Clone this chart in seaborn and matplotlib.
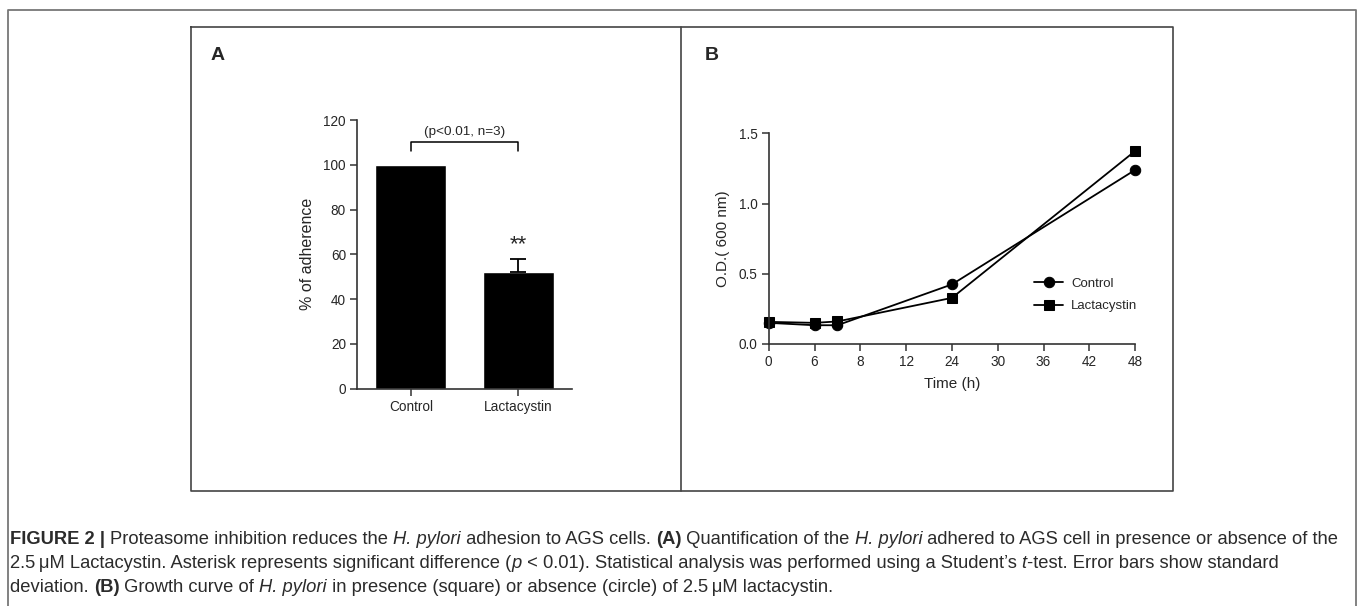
import numpy as np
import pandas as pd
import matplotlib
matplotlib.use("Agg")
import matplotlib.pyplot as plt
import seaborn as sns
from matplotlib.lines import Line2D
from matplotlib.offsetbox import TextArea, HPacker, AnchoredOffsetbox
from matplotlib import font_manager

# ---- data ----
groups = ["Control", "Lactacystin"]
adherence = [100, 52]
adherence_sd = [0, 6]

time_h = [0, 6, 7, 24, 48]
od_control = [0.15, 0.133, 0.133, 0.424, 1.24]
od_lacta = [0.157, 0.15, 0.16, 0.328, 1.375]
time_ticks = [0, 6, 8, 12, 24, 30, 36, 42, 48]

sns.set_style("ticks")
plt.rcParams["font.family"] = ["Liberation Sans", "DejaVu Sans"]

W, H = 1358, 606
fig = plt.figure(figsize=(W / 100, H / 100), dpi=100)


def px_axes(x0, y0, x1, y1):
    # pixel box (top-left origin) -> figure axes
    return fig.add_axes([x0 / W, 1 - y1 / H, (x1 - x0) / W, (y1 - y0) / H])


def px_line(xs, ys, color="#555555", lw=1.2):
    fig.add_artist(Line2D([x / W for x in xs], [1 - y / H for y in ys],
                          transform=fig.transFigure, color=color, lw=lw))


# frames
px_line([8, 8, 1356, 1356], [606, 10, 10, 606], color="#777777", lw=1.3)
px_line([191, 1173, 1173, 191, 191], [27, 27, 491, 491, 27], color="#444444", lw=1.2)
px_line([681, 681], [27, 491], color="#444444", lw=1.2)

fig.text(218 / W, 1 - 55 / H, "A", fontsize=14, fontweight="bold", ha="center", va="center")
fig.text(712 / W, 1 - 55 / H, "B", fontsize=14, fontweight="bold", ha="center", va="center")

# ---- panel A ----
axA = px_axes(357, 120, 572, 388.6)
sns.barplot(x=groups, y=adherence, color="black", width=0.66, errorbar=None,
            saturation=1, ax=axA)
axA.errorbar([1], [adherence[1]], yerr=[[0], [adherence_sd[1]]], fmt="none",
             ecolor="black", elinewidth=1.3, capsize=5.8, capthick=1.3)
axA.set_xlim(-0.5, 1.5)
axA.set_ylim(0, 120)
axA.set_yticks(range(0, 121, 20))
axA.set_ylabel("% of adherence", fontsize=11.5, labelpad=6)
axA.set_xlabel("")
axA.text(1, adherence[1] + adherence_sd[1] + 1.5, "**", ha="center", va="bottom", fontsize=16)
# significance bracket
axA.plot([0, 0, 1, 1], [106, 110.3, 110.3, 106], color="black", lw=1.1, clip_on=False)
axA.text(0.5, 112, "(p<0.01, n=3)", ha="center", va="bottom", fontsize=9.7)

# ---- panel B ----
tick_idx = np.arange(len(time_ticks))
pos = np.interp(time_h, time_ticks, tick_idx)
df = pd.DataFrame({
    "pos": np.concatenate([pos, pos]),
    "od": od_control + od_lacta,
    "group": ["Control"] * len(time_h) + ["Lactacystin"] * len(time_h),
})

axB = px_axes(768.7, 133.4, 1135.2, 343.9)
sns.lineplot(data=df, x="pos", y="od", style="group",
             markers={"Control": "o", "Lactacystin": "s"}, dashes=False,
             color="black", markersize=7.5, linewidth=1.3,
             markeredgecolor="black", ax=axB, clip_on=False)
axB.set_xlim(0, 8)
axB.set_ylim(0, 1.5)
axB.set_xticks(tick_idx)
axB.set_xticklabels([str(t) for t in time_ticks])
axB.set_yticks([0, 0.5, 1.0, 1.5])
axB.set_yticklabels(["0.0", "0.5", "1.0", "1.5"])
axB.set_xlabel("Time (h)", fontsize=11, labelpad=6)
axB.set_ylabel("O.D.( 600 nm)", fontsize=11, labelpad=6)
handles, labels = axB.get_legend_handles_labels()
axB.legend(handles, labels, frameon=False, fontsize=9.5, loc="center left",
           bbox_to_anchor=(1034 / W, 1 - 295 / H), bbox_transform=fig.transFigure,
           handlelength=2.2, handletextpad=0.6, labelspacing=0.75, borderpad=0,
           borderaxespad=0)

for ax in (axA, axB):
    sns.despine(ax=ax)
    for s in ("left", "bottom"):
        ax.spines[s].set_color("#333333")
        ax.spines[s].set_linewidth(1.2)
    ax.tick_params(direction="out", length=5, width=1.1, color="#333333",
                   labelsize=9.8, pad=3)

# ---- caption ----
names = {f.name for f in font_manager.fontManager.ttflist}
cap_font = "Liberation Sans Narrow" if "Liberation Sans Narrow" in names else "Liberation Sans"
cap_size = 14.3 if cap_font == "Liberation Sans Narrow" else 13.2
cap_color = "#2b2b2b"

caption_lines = [
    [("FIGURE 2 | ", "bold"), ("Proteasome inhibition reduces the ", ""), ("H. pylori", "italic"),
     (" adhesion to AGS cells. ", ""), ("(A)", "bold"), (" Quantification of the ", ""),
     ("H. pylori", "italic"), (" adhered to AGS cell in presence or absence of the", "")],
    [("2.5\u2009\u03bcM Lactacystin. Asterisk represents significant difference (", ""), ("p", "italic"),
     (" < 0.01). Statistical analysis was performed using a Student\u2019s ", ""), ("t", "italic"),
     ("-test. Error bars show standard", "")],
    [("deviation. ", ""), ("(B)", "bold"), (" Growth curve of ", ""), ("H. pylori", "italic"),
     (" in presence (square) or absence (circle) of 2.5\u2009\u03bcM lactacystin.", "")],
]
line_y = [539, 563, 587]
for segs, y in zip(caption_lines, line_y):
    areas = []
    for txt, sty in segs:
        props = dict(fontsize=cap_size, color=cap_color, family=[cap_font, "DejaVu Sans"])
        if sty == "bold":
            props["fontweight"] = "bold"
        elif sty == "italic":
            props["fontstyle"] = "italic"
        areas.append(TextArea(txt, textprops=props))
    box = HPacker(children=areas, pad=0, sep=0, align="baseline")
    anchored = AnchoredOffsetbox(loc="center left", child=box, pad=0, borderpad=0,
                                 frameon=False, bbox_to_anchor=(10 / W, 1 - y / H),
                                 bbox_transform=fig.transFigure)
    fig.add_artist(anchored)

fig.savefig("out.png", dpi=100)
